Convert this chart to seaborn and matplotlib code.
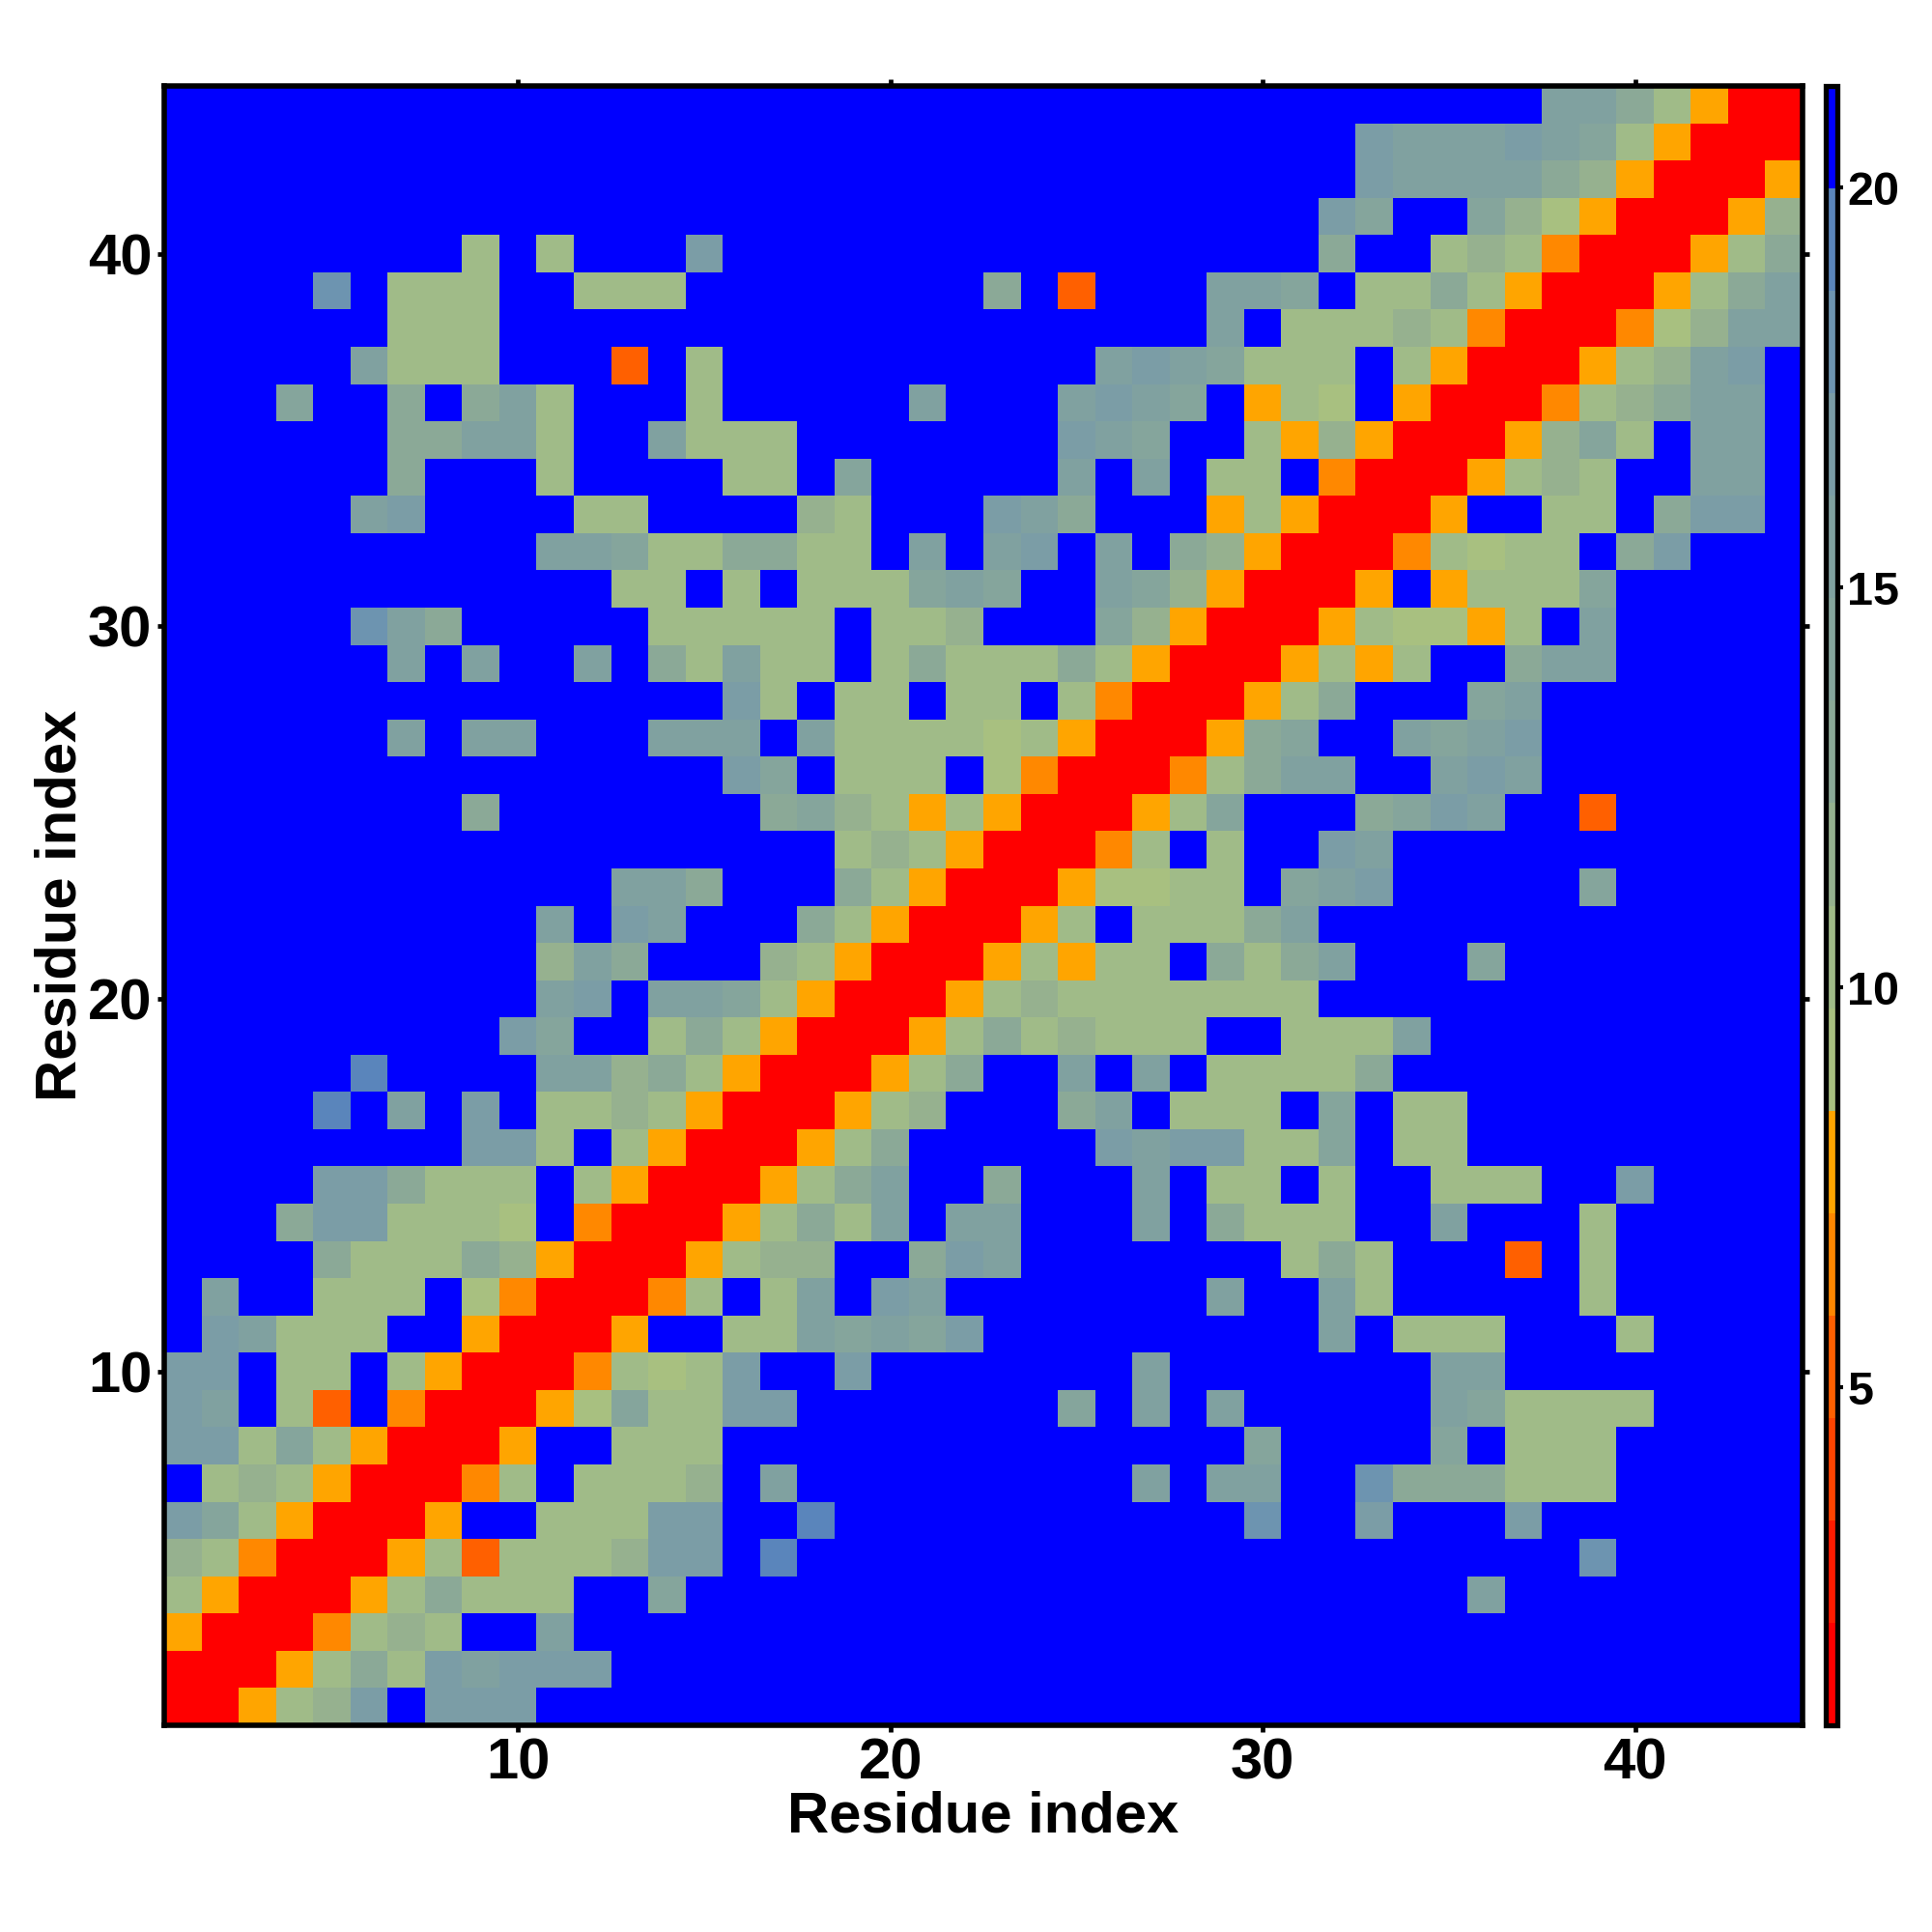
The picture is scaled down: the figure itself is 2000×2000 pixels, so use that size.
import numpy as np
import pandas as pd
import seaborn as sns
import matplotlib.pyplot as plt
from matplotlib.colors import ListedColormap

# residue-residue distance classes, top row is residue 44, spaces only for reading
rows = [
    ".......... .......... .......... .......llj gYRR",
    ".......... .......... .......... ..mlllmlkg YRRR",
    ".......... .......... .......... ..mlllljiY RRRY",
    ".......... .......... .......... .mk..kihYR RRYi",
    "........g. g...m..... .......... .j..gigORR RYgj",
    "....n.ggg. .ggg...... ..j.D...ll k.ggjgYRRR Ygjl",
    "......ggg. .......... ........l. gggigORRRO hill",
    ".....lggg. ..D.g..... .....lmlkg gg.gYRRRYg ilm.",
    "...k..j.jl g...g..... l...lmlk.Y gh.YRRROgi jll.",
    "......jjll g..lggg... ....mlk..g YiYRRRYikg .ll.",
    "......j... g....gg.k. ....l.l.gg .ORRRYgig. .ll.",
    ".....lm... .gg....ig. ..mlj...Yg YRRRY..gg. jmm.",
    ".......... llkggjjgg. l.lm.l.jiY RRROghgg.j m...",
    ".......... ..gg.g.ggg klk..lkiYR RRY.Ygggk. ....",
    ".....nlj.. ...ggggg.g gi...kiYRR RYghhYg.l. ....",
    "......l.l. .l.jglgg.g jgggjgYRRR YgYg..jll. ....",
    ".......... .....mg.gg .gg.gORRRY gj...kl... ....",
    "......l.ll ...lll.lgg gghgYRRRYj k..lklm... ....",
    ".......... .....mk.gg g.hORRROgj ll..lml... ....",
    "........j. ......jkig YgYRRRYgk. ..jkml..D. ....",
    ".......... ........gi gYRRROg.g. .ml....... ....",
    ".......... ..llj...jg YRRRYhhgg. klm.....k. ....",
    ".......... l.ml...jgY RRRYg.gggj l......... ....",
    ".......... ilj...igYR RRYgYgg.jg jl...k.... ....",
    ".......... lm.llkgYRR RYgigggggg g......... ....",
    ".........m k..gjgYRRR Ygjgiggg.. gggl...... ....",
    ".....p.... llijgYRRRY gj..l.l.gg ggj....... ....",
    "....p.l.m. ggigYRRRYg i...jl.ggg .k.gg..... ....",
    "........mm g.gYRRRYgj .....mlmmg gk.gg..... ....",
    "....mmjggg .gYRRRYgjl ..j...l.gg .g..ggg..m ....",
    "...jmmgggh .ORRRYgjgl .ll...l.jg gg..l...g. ....",
    "....jgggji YRRRYgii.. jml....... gjg...D.g. ....",
    ".l..ggg.hO RRROg.gl.m l.......l. .lg.....g. ....",
    ".mlggg..YR RRY..gglkl km........ .l.ggg...g ....",
    "mm.gg.gYRR ROghgm..m. ......l... ....ll.... ....",
    "ml.gD.ORRR Yhkggmm... ....k.l.l. ....lkgggg ....",
    "mmgkgYRRRY ..ggg..... .........k ....k.ggg. ....",
    ".gigYRRROg .gggi.l... ......l.ll ..njjjggg. ....",
    "mkgYRRRY.. gggmm..p.. .........n ..m...m... ....",
    "igORRRYgDg ggimm.p... .......... ........n. ....",
    "gYRRRYgjgg g..k...... .......... .....l.... ....",
    "YRRROgig.. l......... .......... .......... ....",
    "RRRYgjgmlm mm........ .......... .......... ....",
    "RRYgim.mmm .......... .......... .......... ....",
]

# distance in angstrom standing for each class
levels = {"R": 1.4, "D": 5.2, "O": 6.5, "Y": 7.8, "h": 9.0, "g": 10.3, "i": 11.6, "j": 12.9,
          "k": 14.1, "l": 15.4, "m": 16.7, "n": 18.0, "p": 19.2, ".": 20.5}

palette = ["#ff0000", "#ff1c00", "#ff4400", "#ff6000", "#ff8800", "#ffa500", "#a8c080", "#a0bb88",
           "#96b18f", "#8ba997", "#85a59c", "#80a1a0", "#7b9da6", "#6d94b0", "#5a85bb", "#0000ff"]

residues = list(range(44, 0, -1))
major = [10, 20, 30, 40]
cbar_ticks = [5, 10, 15, 20]

sns.set_theme(style="white")
plt.rcParams["font.family"] = ["Liberation Sans", "DejaVu Sans"]
plt.rcParams["font.weight"] = "bold"

dist = pd.DataFrame([[levels[c] for c in r.replace(" ", "")] for r in rows],
                    index=residues, columns=residues[::-1])

fig = plt.figure(figsize=(10, 10), dpi=200)
ax = fig.add_axes([170 / 2000, 214 / 2000, 1696 / 2000, 1697 / 2000])
cax = fig.add_axes([1889.5 / 2000, 214 / 2000, 12.5 / 2000, 1697 / 2000])

sns.heatmap(dist, ax=ax, cbar_ax=cax, cmap=ListedColormap(palette), vmin=0.78, vmax=21.27,
            cbar_kws={"ticks": cbar_ticks}, xticklabels=False, yticklabels=False, square=False)

ax.set_xticks([r - 0.5 for r in major], labels=major, rotation=0)
ax.set_yticks([44 - r + 0.5 for r in major], labels=major, rotation=0)
ax.tick_params(axis="both", which="major", top=True, right=True, bottom=True, left=True,
               length=2.6, width=1.7, color="black", labelsize=21.5, pad=2, labelcolor="black")
ax.set_xlabel("Residue index", fontsize=21.5, fontweight="bold", color="black", labelpad=0)
ax.set_ylabel("Residue index", fontsize=21.5, fontweight="bold", color="black", labelpad=0)
for sp in ax.spines.values():
    sp.set_visible(True)
    sp.set_color("black")
    sp.set_linewidth(2.0)

cbar = ax.collections[0].colorbar
cbar.outline.set_visible(True)
cbar.outline.set_edgecolor("black")
cbar.outline.set_linewidth(1.9)
cbar.ax.tick_params(right=True, length=2.2, width=1.5, color="black", labelsize=17.5, pad=1.5, labelcolor="black")

fig.savefig("out.png", dpi=200)
